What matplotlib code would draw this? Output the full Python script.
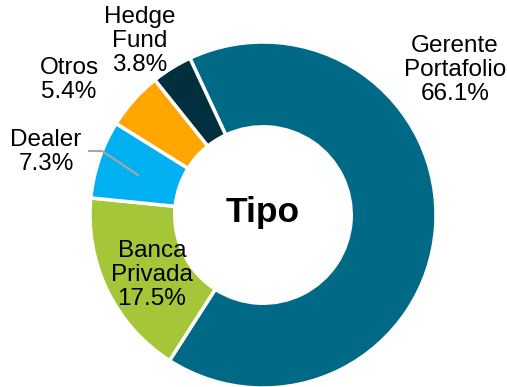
import matplotlib.pyplot as plt

# Distribución por tipo de inversionista (%)
categorias = ['Gerente\nPortafolio', 'Banca\nPrivada', 'Dealer', 'Otros', 'Hedge\nFund']
valores = [66.1, 17.5, 7.3, 5.4, 3.8]
colores = ['#006A86', '#A6C639', '#00B0F0', '#FFA600', '#022F3E']

plt.rcParams['font.family'] = ['Liberation Sans', 'DejaVu Sans']

W, H = 507, 387
cx, cy, R = 263, 215, 173          # centro y radio en pixeles

fig = plt.figure(figsize=(W / 100, H / 100), dpi=100)
ax = fig.add_axes([0, 0, 1, 1])

wedges, _ = ax.pie(valores, colors=colores, startangle=115, counterclock=False,
                   radius=1.0, wedgeprops=dict(width=0.49, edgecolor='white', linewidth=2.5))

ax.set_xlim(-cx / R, (W - cx) / R)
ax.set_ylim(-(H - cy) / R, cy / R)
ax.set_aspect('equal')
ax.axis('off')


def px(x, y):
    return (x - cx) / R, (cy - y) / R


# posiciones de las etiquetas (pixeles)
pos_etq = [(455, 70), (152, 275), (46, 152), (69, 80), (140, 41)]
for nombre, v, (x, y) in zip(categorias, valores, pos_etq):
    ax.text(*px(x, y), f'{nombre}\n{v:.1f}%', ha='center', va='center',
            fontsize=17.5, linespacing=1.1, color='black')

# línea guía de Dealer
lx, ly = zip(px(89, 151), px(102, 151), px(138, 175))
ax.plot(lx, ly, color='#A6A6A6', lw=1.5)

ax.text(*px(263, 212), 'Tipo', ha='center', va='center', fontsize=25.5, fontweight='bold')

fig.savefig('out.png', dpi=100)
